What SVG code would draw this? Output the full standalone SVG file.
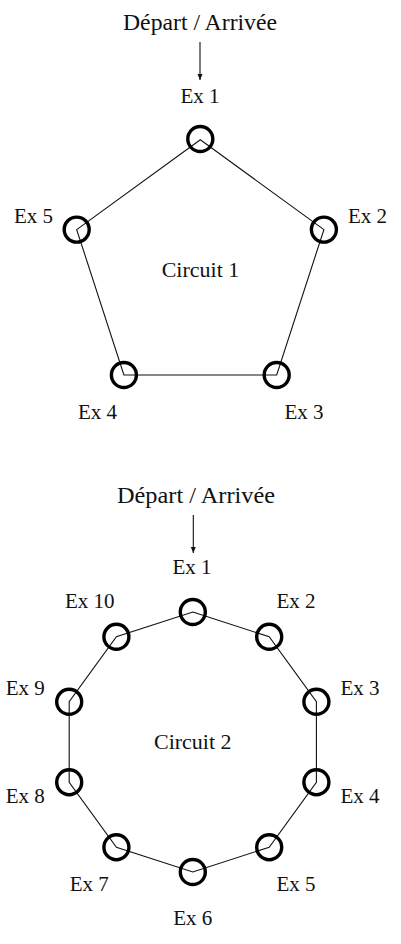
<svg xmlns="http://www.w3.org/2000/svg" width="401" height="944" viewBox="0 0 401 944">
<style>
text{font-family:"Liberation Serif","DejaVu Serif",serif;font-size:21px;fill:#111;text-anchor:middle}
.h{font-size:22.5px}
.c{font-size:22px}
.st{fill:none;stroke:#000;stroke-width:3.4}
.e{stroke:#111;stroke-width:1.1;fill:none}
</style>
<defs>
<marker id="ah" markerUnits="userSpaceOnUse" markerWidth="7" markerHeight="6" refX="6" refY="2.5" orient="auto"><path d="M0,0 L6,2.5 L0,5 z" fill="#111"/></marker>
</defs>
<rect width="401" height="944" fill="#fff"/>
<g id="connectors">
<line class="e" x1="200" y1="42" x2="200" y2="80" marker-end="url(#ah)"/>
<polygon class="e" points="200.3,139.8 323.9,229.6 276.7,375 123.9,375 76.7,229.6"/>
<line class="e" x1="193.3" y1="515" x2="193.3" y2="553" marker-end="url(#ah)"/>
<polygon class="e" points="192.8,612 269.2,636.8 316.4,701.8 316.4,782.2 269.2,847.2 192.8,872 116.4,847.2 69.2,782.2 69.2,701.8 116.4,636.8"/>
</g>
<g id="start1"><text class="h" x="200" y="30" textLength="154" lengthAdjust="spacingAndGlyphs">Départ / Arrivée</text></g>
<g id="circuit1"><text class="c" x="200.5" y="277">Circuit 1</text></g>
<g id="c1-ex1"><circle class="st" cx="200.3" cy="139" r="12.5"/><text x="200" y="103">Ex 1</text></g>
<g id="c1-ex2"><circle class="st" cx="323.9" cy="229.6" r="12.5"/><text x="367.5" y="223">Ex 2</text></g>
<g id="c1-ex3"><circle class="st" cx="276.7" cy="375" r="12.5"/><text x="304" y="419">Ex 3</text></g>
<g id="c1-ex4"><circle class="st" cx="123.9" cy="375" r="12.5"/><text x="97.5" y="419">Ex 4</text></g>
<g id="c1-ex5"><circle class="st" cx="76.7" cy="229.6" r="12.5"/><text x="33.5" y="223">Ex 5</text></g>
<g id="start2"><text class="h" x="196" y="503" textLength="158" lengthAdjust="spacingAndGlyphs">Départ / Arrivée</text></g>
<g id="circuit2"><text class="c" x="192.8" y="749">Circuit 2</text></g>
<g id="c2-ex1"><circle class="st" cx="192.8" cy="612" r="12.5"/><text x="192" y="574">Ex 1</text></g>
<g id="c2-ex2"><circle class="st" cx="269.2" cy="636.8" r="12.5"/><text x="296" y="607.7">Ex 2</text></g>
<g id="c2-ex3"><circle class="st" cx="316.4" cy="701.8" r="12.5"/><text x="360" y="695">Ex 3</text></g>
<g id="c2-ex4"><circle class="st" cx="316.4" cy="782.2" r="12.5"/><text x="360" y="803">Ex 4</text></g>
<g id="c2-ex5"><circle class="st" cx="269.2" cy="847.2" r="12.5"/><text x="296" y="891">Ex 5</text></g>
<g id="c2-ex6"><circle class="st" cx="192.8" cy="872" r="12.5"/><text x="192.7" y="925">Ex 6</text></g>
<g id="c2-ex7"><circle class="st" cx="116.4" cy="847.2" r="12.5"/><text x="89.3" y="891">Ex 7</text></g>
<g id="c2-ex8"><circle class="st" cx="69.2" cy="782.2" r="12.5"/><text x="25.3" y="803">Ex 8</text></g>
<g id="c2-ex9"><circle class="st" cx="69.2" cy="701.8" r="12.5"/><text x="25.3" y="695">Ex 9</text></g>
<g id="c2-ex10"><circle class="st" cx="116.4" cy="636.8" r="12.5"/><text x="89.7" y="607.7">Ex 10</text></g>
</svg>
